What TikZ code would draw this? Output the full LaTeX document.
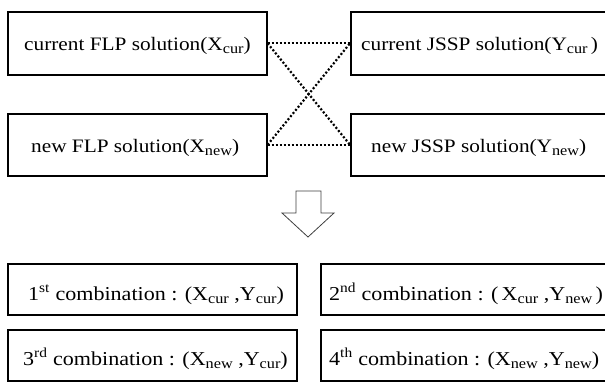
\documentclass[tikz,border=0pt]{standalone}
\usepackage{fontspec}
\setmainfont{Liberation Serif}[FakeStretch=1.12]
\newcommand{\sbs}[1]{\raisebox{-0.35ex}{\fontsize{14.5}{14.5}\selectfont #1}}
\newcommand{\sbb}[1]{\raisebox{-0.35ex}{\fontsize{14.5}{14.5}\selectfont #1}}
\begin{document}
\begin{tikzpicture}[x=1pt,y=-1pt,
  box/.style={draw=black,line width=1.6pt,rectangle,inner sep=0pt,anchor=north west},
  toptxt/.style={anchor=base west,inner sep=0pt,font=\fontsize{19}{19}\selectfont},
  bottxt/.style={anchor=base west,inner sep=0pt,font=\fontsize{19.7}{19.7}\selectfont},
  dotline/.style={line width=2.2pt,dash pattern=on 2pt off 2pt}]
\useasboundingbox[fill=white] (0,0) rectangle (605,381);
% top boxes
\node[box,minimum width=259pt,minimum height=63pt] (xc) at (7,11) {};
\node[box,minimum width=270pt,minimum height=63pt] (yc) at (350,11) {};
\node[box,minimum width=259pt,minimum height=62pt] (xn) at (7,113) {};
\node[box,minimum width=270pt,minimum height=62pt] (yn) at (350,113) {};
\node[toptxt] (txc) at (24,50) {current FLP solution(X\sbs{cur})};
\node[toptxt] (tyc) at (361,50) {current JSSP solution(Y\sbs{cur}\,)};
\node[toptxt] (txn) at (31,152) {new FLP solution(X\sbs{new})};
\node[toptxt] (tyn) at (371,152) {new JSSP solution(Y\sbs{new})};
% dotted connectors
\draw[dotline] (xc.east) -- (yc.west);
\draw[dotline] (xn.east) -- (yn.west);
\draw[dotline] (xc.east) -- (yn.west);
\draw[dotline] (xn.east) -- (yc.west);
% hollow arrow
\draw[line width=0.8pt,draw=black!75,line join=miter] (296,191) -- (321,191) -- (321,213) -- (334,213) -- (308,237) -- (282,213) -- (296,213) -- cycle;
% bottom boxes
\node[box,minimum width=289pt,minimum height=51pt] (c1) at (7,263) {};
\node[box,minimum width=300pt,minimum height=51pt] (c2) at (320,263) {};
\node[box,minimum width=289pt,minimum height=51pt] (c3) at (7,329) {};
\node[box,minimum width=300pt,minimum height=51pt] (c4) at (320,329) {};
\node[bottxt] (t1) at (28,300) {1\textsuperscript{st} combination : (X\sbb{cur} ,Y\sbb{cur})};
\node[bottxt] (t2) at (329,300) {2\textsuperscript{nd} combination : (\,X\sbb{cur} ,Y\sbb{new}\,)};
\node[bottxt] (t3) at (23,365) {3\textsuperscript{rd} combination : (X\sbb{new} ,Y\sbb{cur})};
\node[bottxt] (t4) at (329,365) {4\textsuperscript{th} combination : (X\sbb{new} ,Y\sbb{new})};
\end{tikzpicture}
\end{document}
